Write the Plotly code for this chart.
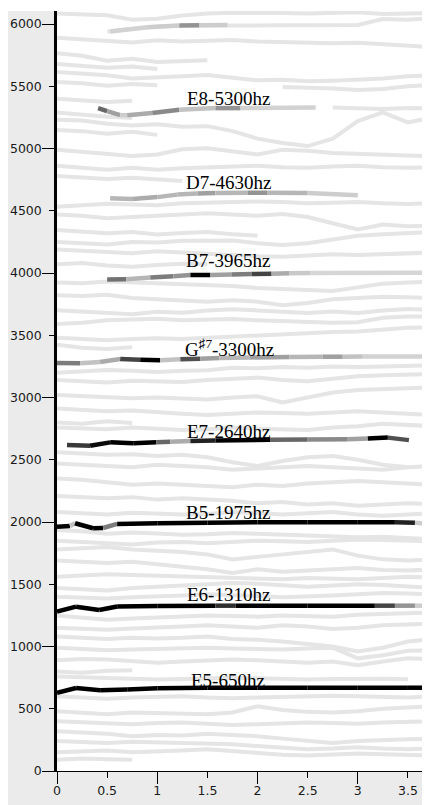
import plotly.graph_objects as go
from plotly.colors import sample_colorscale

N = None

# ---------------- data ----------------
# faint partial tracks (Hz) sampled on a common time grid (s)
BG_X = [0, 0.25, 0.5, 0.75, 1.0, 1.25, 1.5, 1.75, 2.0, 2.25, 2.5, 2.75, 3.0, 3.25, 3.5, 3.75]
BG_TRACKS = [
    [6085, 6078, 6070, 6035, 6042, 6068, 6085, 6090, 6092, 6088, 6085, 6090, 6095, 6080, 6085, 6088],
    [N, N, 5940, 5962, 5980, 5988, 5990, 5992, 5990, 5990, 5990, 5988, 5992, 6040, 6035, 6050],
    [5890, 5878, 5862, 5852, 5870, 5860, 5866, 5872, 5860, 5855, 5850, 5846, 5850, 5838, 5822, 5815],
    [5765, 5745, 5705, 5722, 5695, 5702, 5710, N, N, N, N, N, N, N, N, N],
    [5680, 5665, 5650, 5660, 5640, N, N, N, N, N, N, N, N, N, N, N],
    [5615, 5600, 5588, 5562, 5575, 5580, 5590, 5565, 5548, 5552, 5540, 5545, 5552, 5562, 5580, 5588],
    [5535, 5525, 5505, 5518, 5508, N, N, N, N, N, N, N, N, N, N, N],
    [N, N, N, N, N, N, N, N, N, 5495, 5490, 5482, 5470, 5478, 5500, 5512],
    [5400, 5390, 5375, 5385, N, N, N, N, N, N, N, N, N, N, N, N],
    [N, N, N, N, N, N, N, N, N, N, N, 5330, 5322, 5318, 5325, 5322],
    [5290, 5272, 5255, 5245, N, N, N, N, N, N, N, N, N, N, N, N],
    [5232, 5225, 5200, 5185, 5195, 5175, 5180, 5140, 5080, 5045, 5020, 5080, 5220, 5290, 5210, 5250],
    [5150, 5140, 5120, 5135, 5110, N, N, N, N, N, N, N, N, N, N, N],
    [4990, 4975, 4960, 4940, 4952, 4995, 5002, 4980, 4952, 4990, 4982, 4965, 4960, 4952, 4945, 4935],
    [4862, 4842, 4830, 4846, 4830, 4842, 4850, 4856, 4862, 4850, 4845, 4855, 4862, 4850, 4845, 4850],
    [4780, 4770, 4755, 4765, 4750, 4740, N, N, N, N, N, N, N, N, N, N],
    [4532, 4542, 4556, 4550, 4545, 4560, 4566, 4570, 4575, 4570, 4560, 4565, 4570, 4560, 4555, 4560],
    [4470, 4460, 4440, 4452, 4462, 4470, 4480, 4470, 4460, 4475, 4450, 4400, 4350, 4390, 4375, 4380],
    [4345, 4332, 4320, 4330, 4310, 4322, 4330, 4312, 4300, N, N, N, N, N, N, N],
    [4250, 4240, 4230, 4250, 4245, 4260, 4265, 4262, 4240, 4225, 4240, 4270, 4300, 4312, 4320, 4330],
    [4190, 4180, 4170, 4160, 4175, 4165, 4150, 4140, 4135, 4130, 4140, 4150, 4145, 4150, 4160, 4165],
    [4070, 4080, 4060, 4050, 4065, 4075, 4070, N, N, N, N, N, N, N, N, N],
    [3925, 3918, 3932, 3925, 3920, 3910, 3900, 3895, 3880, 3870, 3860, 3855, 3885, 3915, 3925, 3930],
    [3822, 3815, 3826, 3800, 3790, 3780, 3770, 3782, 3770, 3742, 3760, 3790, 3800, 3810, 3805, 3800],
    [3702, 3690, 3680, 3670, 3690, 3682, 3700, 3710, 3700, 3690, 3680, 3692, 3680, 3700, 3712, 3705],
    [3590, 3600, 3620, 3626, 3632, 3620, 3625, 3630, 3620, 3615, 3610, 3600, 3605, 3640, 3650, 3650],
    [3480, 3470, 3460, 3470, 3476, 3470, 3480, 3490, 3500, 3512, 3520, 3526, 3530, 3545, 3560, 3565],
    [3425, 3400, 3390, 3405, N, N, N, N, N, N, N, N, N, N, N, N],
    [3200, 3210, 3222, 3215, 3205, 3215, 3220, 3240, 3235, 3245, 3240, 3250, 3245, 3250, 3255, 3260],
    [3140, 3130, 3120, 3135, 3130, 3125, 3140, 3150, 3160, 3140, 3130, 3150, 3170, 3180, 3185, 3190],
    [3020, 3010, 3000, 2995, 3000, 2990, 2985, 3000, 3010, 2960, 3000, 3040, 3060, 3070, 3075, 3080],
    [2912, 2900, 2890, 2895, 2880, 2870, 2860, 2870, 2880, 2875, 2870, 2880, 2890, 2880, 2870, 2860],
    [2800, 2790, 2810, 2795, N, N, N, N, N, N, N, N, N, N, N, N],
    [2760, 2750, 2745, 2760, 2750, 2740, 2745, 2760, 2750, 2745, 2740, 2760, 2770, 2790, 2780, 2770],
    [2560, 2550, 2540, 2545, 2530, 2540, 2520, 2480, 2450, 2490, 2520, 2530, 2500, 2460, 2440, N],
    [2470, 2460, 2450, 2440, 2460, 2450, 2440, 2420, 2430, 2440, 2450, 2440, 2430, 2420, 2440, 2450],
    [2350, 2340, 2320, 2300, 2310, 2300, 2290, 2280, 2300, 2290, 2310, 2320, 2330, 2320, 2310, 2300],
    [2210, 2200, 2190, 2200, 2180, 2190, 2180, 2170, 2150, 2160, 2140, 2150, 2130, 2140, 2150, 2145],
    [2080, 2070, 2060, 2075, 2070, 2060, 2065, 2080, 2070, 2060, 2070, 2080, 2060, 2050, 2060, 2070],
    [1935, 1925, 1905, 1915, 1908, 1898, 1902, 1912, 1905, 1900, 1892, 1882, 1878, 1882, 1872, 1862],
    [1850, 1840, 1830, 1820, 1835, 1840, 1830, 1840, 1850, 1845, 1840, 1850, 1860, 1855, 1850, 1845],
    [1780, 1790, 1800, 1780, 1770, 1760, 1740, 1700, 1720, 1740, 1760, 1780, 1730, 1700, 1690, 1700],
    [1690, 1680, 1670, 1680, 1660, 1640, 1620, 1590, 1620, 1600, 1610, 1620, 1630, 1615, 1610, 1620],
    [1560, 1570, 1580, 1575, 1570, 1565, 1560, 1550, 1545, 1540, 1550, 1545, 1540, 1550, 1560, 1555],
    [1470, 1460, 1450, 1470, 1480, 1490, 1500, 1510, 1505, 1490, 1480, 1490, 1500, 1495, 1480, 1470],
    [1400, 1390, 1385, 1395, 1400, 1410, 1420, 1415, 1405, 1395, 1400, 1410, 1420, 1430, 1425, 1420],
    [1250, 1230, 1215, 1225, 1235, 1240, 1250, 1245, 1240, 1250, 1245, 1240, 1255, 1260, 1270, 1275],
    [1150, 1140, 1135, 1145, 1150, 1160, 1170, 1160, 1150, 1170, 1160, 1140, 1150, 1170, 1180, 1185],
    [1080, 1070, 1060, 1070, 1065, 1070, 1080, 1060, 1055, 1040, 1020, 1000, 960, 990, 1040, 1060],
    [990, 980, 970, 975, 980, 985, 990, 985, 980, 975, 985, 990, 905, 930, 965, 970],
    [890, 900, 895, 880, 870, 880, 890, 895, 890, 880, 870, 880, 850, 880, 905, 900],
    [800, 790, 805, 810, N, N, N, N, N, N, N, N, N, N, N, N],
    [760, 755, 745, 740, 735, 740, 745, 750, 745, 740, 735, 740, 745, 742, 738, N],
    [600, 590, 580, 590, 595, 600, 590, 585, 590, 595, 600, 605, 600, 595, 590, 600],
    [480, 470, 455, 470, 465, 460, 455, 470, 520, 490, 475, 470, 480, 500, 510, 520],
    [400, 390, 380, 375, 385, 390, 380, 370, 375, 380, 390, 385, 380, 390, 395, 400],
    [320, 310, 300, 280, 290, 285, 300, 290, 280, 260, 240, 225, 240, 250, 255, 260],
    [240, 230, 225, 235, 230, 225, 220, 215, 200, 190, 175, 180, 190, 180, 175, 180],
    [150, 160, 165, 150, 155, 165, 175, 160, 140, 130, 125, 130, 140, 135, 130, 125],
    [90, 100, 95, 90, N, N, N, N, N, N, N, N, N, N, N, N],
]

# highlighted harmonic partials: time (s), frequency (Hz), amplitude per segment (0..1)
E5_T = [0, 0.19, 0.43, 0.7, 1.0, 1.5, 2.0, 2.5, 3.0, 3.5, 3.75]
E5_F = [629, 667, 648, 655, 665, 668, 669, 669, 669, 669, 669]
E5_A = [1, 1, 1, 1, 1, 1, 1, 1, 1, 1]

E6_T = [0, 0.19, 0.42, 0.6, 1.0, 1.58, 1.78, 2.5, 3.17, 3.37, 3.57, 3.75]
E6_F = [1280, 1320, 1293, 1322, 1326, 1328, 1328, 1328, 1328, 1328, 1328, 1328]
E6_A = [1, 1, 1, 1, 1, 0.8, 1, 1, 0.7, 0.35, 0.1]

B5_T = [0, 0.13, 0.18, 0.36, 0.46, 0.6, 1.0, 1.5, 2.0, 2.5, 3.0, 3.37, 3.57, 3.75]
B5_F = [1962, 1968, 1990, 1950, 1952, 1985, 1990, 1995, 1998, 1998, 1998, 1998, 1995, 1985]
B5_A = [1, 0.15, 1, 1, 0.45, 1, 1, 1, 1, 1, 1, 0.85, 0.1]

E7_T = [0.1, 0.33, 0.53, 0.76, 0.99, 1.13, 1.33, 1.58, 2.13, 2.5, 2.9, 3.1, 3.3, 3.51]
E7_F = [2618, 2612, 2640, 2633, 2640, 2645, 2650, 2655, 2660, 2662, 2665, 2670, 2678, 2658]
E7_A = [0.75, 0.95, 1, 1, 0.55, 0.25, 0.85, 1, 0.55, 0.4, 0.3, 1, 0.65]

GS7_T = [0, 0.23, 0.43, 0.63, 0.83, 1.03, 1.23, 1.43, 1.62, 1.92, 2.32, 2.65, 2.85, 3.05, 3.75]
GS7_F = [3277, 3276, 3285, 3310, 3303, 3300, 3308, 3312, 3318, 3322, 3326, 3328, 3328, 3330, 3330]
GS7_A = [0.45, 0.15, 0.25, 0.7, 1, 0.15, 0.65, 0.3, 0.2, 0.3, 0.2, 0.3, 0.15, 0.08]

B7_T = [0.5, 0.69, 0.93, 1.16, 1.33, 1.53, 1.74, 1.94, 2.14, 2.32, 2.53, 3.75]
B7_F = [3949, 3950, 3965, 3975, 3984, 3985, 3988, 3992, 3995, 3998, 4000, 4002]
B7_A = [0.5, 0.2, 0.45, 0.35, 1, 0.3, 0.45, 0.7, 0.25, 0.12, 0.06]

D7_T = [0.53, 0.75, 1.0, 1.2, 1.4, 1.58, 1.9, 2.1, 2.5, 3.0]
D7_F = [4600, 4595, 4610, 4630, 4640, 4643, 4645, 4645, 4643, 4625]
D7_A = [0.2, 0.25, 0.2, 0.2, 0.3, 0.2, 0.35, 0.2, 0.1]

E8_T = [0.41, 0.5, 0.63, 0.7, 0.95, 1.22, 1.58, 1.83, 2.58]
E8_F = [5325, 5300, 5268, 5268, 5285, 5312, 5325, 5325, 5330]
E8_A = [0.55, 0.3, 0.1, 0.25, 0.4, 0.15, 0.35, 0.08]

TOP_T = [0.53, 0.9, 1.22, 1.42, 1.7]
TOP_F = [5940, 5975, 5988, 5990, 5992]
TOP_A = [0.08, 0.1, 0.35, 0.1]

LABELS = ["E5-650hz", "E6-1310hz", "B5-1975hz", "E7-2640hz",
          "G<sup>♯7</sup>-3300hz", "B7-3965hz", "D7-4630hz", "E8-5300hz"]
LABEL_T = [1.71, 1.71, 1.71, 1.71, 1.72, 1.71, 1.71, 1.71]
LABEL_F = [731, 1414, 2080, 2725, 3400, 4104, 4731, 5402]

X_RANGE = [0, 3.72]
Y_RANGE = [0, 6105]

# ---------------- figure ----------------
fig = go.Figure()

BG_COLOR = "#e5e5e5"
for tr in BG_TRACKS:
    fig.add_trace(go.Scatter(x=BG_X, y=tr, mode="lines",
                             line=dict(color=BG_COLOR, width=4),
                             connectgaps=False, hoverinfo="skip", showlegend=False))

AMP_SCALE = [[0, "rgb(228,228,228)"], [1, "rgb(0,0,0)"]]
partials = [(TOP_T, TOP_F, TOP_A), (E8_T, E8_F, E8_A), (D7_T, D7_F, D7_A),
            (B7_T, B7_F, B7_A), (GS7_T, GS7_F, GS7_A), (E7_T, E7_F, E7_A),
            (B5_T, B5_F, B5_A), (E6_T, E6_F, E6_A), (E5_T, E5_F, E5_A)]
for t, f, a in partials:
    cols = sample_colorscale(AMP_SCALE, a)
    for i in range(len(a)):
        fig.add_trace(go.Scatter(x=t[i:i + 2], y=f[i:i + 2], mode="lines",
                                 line=dict(color=cols[i], width=4.5),
                                 hoverinfo="skip", showlegend=False))

# helper trace for the long (integer / thousand) ticks axis pair
fig.add_trace(go.Scatter(x=[None], y=[None], xaxis="x2", yaxis="y2",
                         mode="markers", hoverinfo="skip", showlegend=False))

for txt, lx, ly in zip(LABELS, LABEL_T, LABEL_F):
    fig.add_annotation(x=lx, y=ly, text=txt, showarrow=False,
                       xanchor="center", yanchor="middle",
                       font=dict(family="Liberation Serif", size=19, color="#000"))

# the page body adds an 8px offset, so the figure is 8px smaller than the window
FIG_W, FIG_H = 422, 797
M_L, M_T, M_B = 49, 3, 34
W_PLOT = FIG_W - M_L
H_PLOT = FIG_H - M_T - M_B
fig.add_shape(type="rect", xref="paper", yref="paper", layer="below",
              x0=-(M_L + 5) / W_PLOT, x1=1.02, y0=1, y1=1 + (M_T + 3) / H_PLOT,
              fillcolor="white", line=dict(width=0))

tick_font = dict(family="DejaVu Sans", size=12.5, color="#1a1a1a")
fig.update_layout(
    width=FIG_W, height=FIG_H,
    margin=dict(l=M_L, r=0, t=M_T, b=M_B, autoexpand=False),
    paper_bgcolor="#ebebeb", plot_bgcolor="white",
    showlegend=False,
    xaxis=dict(range=X_RANGE, tick0=0, dtick=0.5, ticks="outside", ticklen=6,
               tickwidth=1, tickcolor="#000", showline=True, linecolor="#000",
               linewidth=1, showgrid=False, zeroline=False, tickfont=tick_font,
               ticklabelstandoff=2),
    yaxis=dict(range=Y_RANGE, tick0=0, dtick=500, ticks="outside", ticklen=5,
               tickwidth=1, tickcolor="#000", showline=True, linecolor="#000",
               linewidth=2.5, showgrid=False, zeroline=False, tickfont=tick_font,
               ticklabelstandoff=5),
    xaxis2=dict(range=X_RANGE, overlaying="x", anchor="y", side="bottom",
                tick0=0, dtick=1, ticks="outside", ticklen=12, tickwidth=1,
                tickcolor="#000", showticklabels=False, showline=False,
                showgrid=False, zeroline=False),
    yaxis2=dict(range=Y_RANGE, overlaying="y", anchor="x", side="left",
                tick0=0, dtick=1000, ticks="outside", ticklen=14, tickwidth=1,
                tickcolor="#000", showticklabels=False, showline=False,
                showgrid=False, zeroline=False),
)

fig.write_html("out.html")
